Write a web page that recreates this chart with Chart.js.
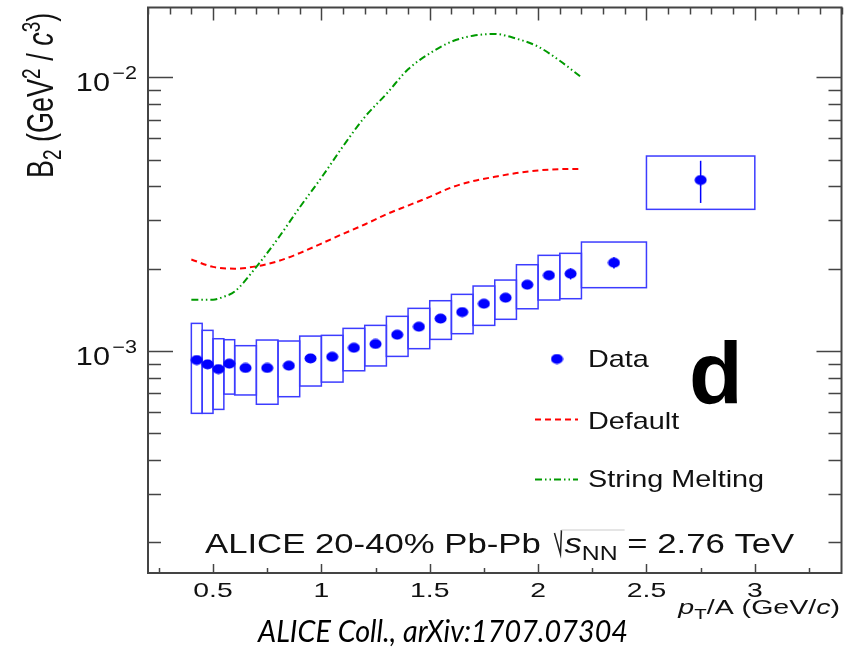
<!DOCTYPE html>
<html>
<head>
<meta charset="utf-8">
<script src="https://cdn.jsdelivr.net/npm/chart.js@4.4.1/dist/chart.umd.min.js"></script>
<style>
    html, body { margin: 0; padding: 0; background: #fff; }
    #wrap { width: 853px; height: 648px; }
</style>
</head>
<body>
<div id="wrap"><canvas id="myChart" width="853" height="648"></canvas></div>
<script>
// values of B2 are in units of 1e-3 GeV^2/c^3
const B2_UNIT = 1e-3;

//******** DATA (ALICE 20-40% Pb-Pb) **********
const binLow   = [0.40, 0.45, 0.50, 0.55, 0.60, 0.70, 0.80, 0.90, 1.00, 1.10, 1.20, 1.30, 1.40, 1.50, 1.60, 1.70, 1.80, 1.90, 2.00, 2.10, 2.20, 2.50];
const binHigh  = [0.45, 0.50, 0.55, 0.60, 0.70, 0.80, 0.90, 1.00, 1.10, 1.20, 1.30, 1.40, 1.50, 1.60, 1.70, 1.80, 1.90, 2.00, 2.10, 2.20, 2.50, 3.00];
const ptCenter = [0.425, 0.475, 0.525, 0.575, 0.65, 0.75, 0.85, 0.95, 1.05, 1.15, 1.25, 1.35, 1.45, 1.55, 1.65, 1.75, 1.85, 1.95, 2.05, 2.15, 2.35, 2.75];
const b2Value  = [0.927, 0.894, 0.859, 0.899, 0.867, 0.867, 0.884, 0.940, 0.953, 1.028, 1.061, 1.147, 1.227, 1.314, 1.388, 1.489, 1.566, 1.747, 1.891, 1.916, 2.102, 4.216];
const b2Stat   = [0.02, 0.02, 0.02, 0.02, 0.02, 0.02, 0.02, 0.02, 0.02, 0.02, 0.03, 0.03, 0.03, 0.03, 0.04, 0.04, 0.05, 0.05, 0.06, 0.09, 0.10, 0.74];
const b2SysLow = [0.592, 0.592, 0.612, 0.696, 0.691, 0.639, 0.681, 0.745, 0.770, 0.847, 0.882, 0.956, 1.020, 1.103, 1.157, 1.241, 1.306, 1.427, 1.536, 1.553, 1.704, 3.294];
const b2SysHigh = [1.262, 1.190, 1.109, 1.100, 1.046, 1.097, 1.088, 1.134, 1.141, 1.210, 1.241, 1.339, 1.432, 1.527, 1.611, 1.728, 1.817, 2.067, 2.237, 2.275, 2.502, 5.159];

//******** AMPT CURVES **********
const defaultPt = [0.4, 0.5, 0.6, 0.7, 0.8, 0.9, 1.0, 1.1, 1.2, 1.3, 1.4, 1.5, 1.6, 1.7, 1.8, 1.9, 2.0, 2.1, 2.2];
const defaultB2 = [2.16, 2.03, 2.00, 2.04, 2.13, 2.28, 2.47, 2.68, 2.90, 3.16, 3.40, 3.66, 3.96, 4.18, 4.33, 4.47, 4.57, 4.62, 4.63];
const meltingPt = [0.4, 0.5, 0.55, 0.6, 0.7, 0.8, 0.9, 1.0, 1.1, 1.2, 1.3, 1.4, 1.5, 1.6, 1.7, 1.8, 1.9, 2.0, 2.1, 2.2];
const meltingB2 = [1.54, 1.54, 1.58, 1.65, 2.03, 2.58, 3.35, 4.30, 5.60, 7.16, 8.70, 10.7, 12.24, 13.5, 14.2, 14.4, 13.85, 12.95, 11.5, 10.0];

//******** AXES **********
const xMin = 0.2, xMax = 3.4;
const yMin = 1.545e-4, yMax = 1.80e-2;
const xTickValues = [0.5, 1, 1.5, 2, 2.5, 3];
const xTickLabels = ['0.5', '1', '1.5', '2', '2.5', '3'];
const yTickValues = [1e-3, 1e-2];
const yTickExponents = ['\u22123', '\u22122'];

const legendLabels = ['Data', 'Default', 'String Melting'];

const SANS = '"Liberation Sans", Arial, sans-serif';
const AXIS_COLOR = '#444';
const BOX_COLOR = '#3c3cff';

// elliptic marker like the ROOT picture
const dotImg = document.createElement('canvas');
dotImg.width = 13;
dotImg.height = 11;
const dctx = dotImg.getContext('2d');
dctx.fillStyle = '#0000ff';
dctx.beginPath();
dctx.ellipse(6.5, 5.5, 6, 5, 0, 0, 2 * Math.PI);
dctx.fill();

const toPoints = (xs, ys) => xs.map((x, i) => ({ x: x, y: ys[i] * B2_UNIT }));

// draw text runs (sub / superscripts) stretched by sx, returns total width
const drawRuns = (ctx, x, y, runs, sx, dryRun) => {
    let cx = 0;
    ctx.save();
    ctx.translate(x, y);
    ctx.scale(sx, 1);
    runs.forEach(r => {
        ctx.font = r.font;
        if (!dryRun) ctx.fillText(r.text, cx, r.dy || 0);
        cx += ctx.measureText(r.text).width;
    });
    ctx.restore();
    return cx * sx;
};

// minor tick values of the log axis
const yMinorTicks = [];
[1e-4, 1e-3, 1e-2].forEach(dec => {
    for (let m = 2; m <= 9; m++) {
        const v = m * dec;
        if (v > yMin && v < yMax) yMinorTicks.push(v);
    }
});

const rootStyle = {
    id: 'rootStyle',
    beforeDatasetsDraw(chart) {
        const ctx = chart.ctx;
        const xs = chart.scales.x, ys = chart.scales.y;
        ctx.save();
        // systematic boxes
        ctx.strokeStyle = BOX_COLOR;
        ctx.lineWidth = 1.5;
        for (let i = 0; i < ptCenter.length; i++) {
            const x1 = xs.getPixelForValue(binLow[i]);
            const x2 = xs.getPixelForValue(binHigh[i]);
            const y1 = ys.getPixelForValue(b2SysHigh[i] * B2_UNIT);
            const y2 = ys.getPixelForValue(b2SysLow[i] * B2_UNIT);
            ctx.strokeRect(x1, y1, x2 - x1, y2 - y1);
        }
        // statistical error bars
        ctx.strokeStyle = '#0000ff';
        ctx.lineWidth = 1.5;
        for (let i = 0; i < ptCenter.length; i++) {
            const px = xs.getPixelForValue(ptCenter[i]);
            ctx.beginPath();
            ctx.moveTo(px, ys.getPixelForValue((b2Value[i] + b2Stat[i]) * B2_UNIT));
            ctx.lineTo(px, ys.getPixelForValue((b2Value[i] - b2Stat[i]) * B2_UNIT));
            ctx.stroke();
        }
        ctx.restore();
    },
    afterDraw(chart) {
        const ctx = chart.ctx;
        const area = chart.chartArea;
        const xs = chart.scales.x, ys = chart.scales.y;
        ctx.save();

        // frame
        ctx.strokeStyle = AXIS_COLOR;
        ctx.lineWidth = 2;
        ctx.strokeRect(area.left, area.top, area.right - area.left, area.bottom - area.top);

        // y ticks, left and right
        ctx.lineWidth = 1.5;
        const yTick = (v, len) => {
            const py = Math.round(ys.getPixelForValue(v)) + 0.5;
            ctx.beginPath();
            ctx.moveTo(area.left, py); ctx.lineTo(area.left + len, py);
            ctx.moveTo(area.right, py); ctx.lineTo(area.right - len, py);
            ctx.stroke();
        };
        yTickValues.forEach(v => yTick(v, 25));
        yMinorTicks.forEach(v => yTick(v, 13));

        // x ticks: top axis every 0.1, bottom axis majors and quarters
        for (let k = 2; k <= 34; k++) {
            const v = k / 10;
            const px = Math.round(xs.getPixelForValue(v)) + 0.5;
            const major = k % 5 === 0;
            ctx.beginPath();
            ctx.moveTo(px, area.top); ctx.lineTo(px, area.top + (major ? 13 : 7));
            ctx.stroke();
            if (major) {
                ctx.beginPath();
                ctx.moveTo(px, area.bottom); ctx.lineTo(px, area.bottom - 9);
                ctx.stroke();
            }
        }
        for (let k = 1; k <= 13; k += 2) {
            const px = Math.round(xs.getPixelForValue(k / 4)) + 0.5;
            ctx.beginPath();
            ctx.moveTo(px, area.bottom); ctx.lineTo(px, area.bottom - 5);
            ctx.stroke();
        }

        ctx.fillStyle = '#111';
        ctx.textBaseline = 'alphabetic';
        ctx.textAlign = 'left';

        // x tick labels (picture is stretched sideways)
        xTickValues.forEach((v, i) => {
            const run = [{ text: xTickLabels[i], font: '21px ' + SANS }];
            const w = drawRuns(ctx, 0, 0, run, 1.35, true);
            drawRuns(ctx, xs.getPixelForValue(v) - w / 2, 597, run, 1.35);
        });

        // y tick labels 10^-n
        yTickValues.forEach((v, i) => {
            const py = ys.getPixelForValue(v);
            const tenRun = [{ text: '10', font: '26px ' + SANS }];
            const expRun = [{ text: yTickExponents[i], font: '18px ' + SANS }];
            const w1 = drawRuns(ctx, 0, 0, tenRun, 1.18, true);
            const w2 = drawRuns(ctx, 0, 0, expRun, 1.2, true);
            drawRuns(ctx, 110 - w1, py + 13.5, tenRun, 1.18);
            drawRuns(ctx, 137 - w2, py + 2, expRun, 1.2);
        });

        // y title (rotated, stretched across)
        ctx.save();
        ctx.translate(53, 178);
        ctx.rotate(-Math.PI / 2);
        ctx.scale(1, 1.35);
        drawRuns(ctx, 0, 0, [
            { text: 'B', font: '27px ' + SANS },
            { text: '2', font: '19px ' + SANS, dy: 6 },
            { text: ' (GeV', font: '27px ' + SANS },
            { text: '2', font: '19px ' + SANS, dy: -10 },
            { text: ' / ', font: '27px ' + SANS },
            { text: 'c', font: 'italic 27px ' + SANS },
            { text: '3', font: '19px ' + SANS, dy: -10 },
            { text: ')', font: '27px ' + SANS }
        ], 1);
        ctx.restore();

        // x title, right aligned
        const xTitle = [
            { text: 'p', font: 'italic 21px ' + SANS },
            { text: 'T', font: '15px ' + SANS, dy: 5 },
            { text: '/A (GeV/', font: '21px ' + SANS },
            { text: 'c', font: 'italic 21px ' + SANS },
            { text: ')', font: '21px ' + SANS }
        ];
        const xTitleW = drawRuns(ctx, 0, 0, xTitle, 1.36, true);
        drawRuns(ctx, 840 - xTitleW, 614, xTitle, 1.36);

        // ALICE label with sqrt(s_NN)
        const base = 553;
        const sx = 1.24;
        let cx = 205;
        cx += drawRuns(ctx, cx, base, [{ text: 'ALICE 20-40% Pb-Pb ', font: '28px ' + SANS }], sx);
        cx += 4;
        ctx.strokeStyle = '#222';
        ctx.lineWidth = 1.5;
        ctx.beginPath();
        ctx.moveTo(cx, base - 20);
        ctx.lineTo(cx + 6, base + 1);
        ctx.lineTo(cx + 7, base - 23);
        ctx.stroke();
        const sStart = cx + 10;
        cx = sStart;
        cx += drawRuns(ctx, cx, base, [
            { text: 's', font: 'italic 28px ' + SANS },
            { text: 'NN', font: '20px ' + SANS, dy: 7 }
        ], sx);
        ctx.strokeStyle = '#ddd';
        ctx.beginPath();
        ctx.moveTo(cx + 7, base - 23);
        ctx.lineTo(cx, base - 23);
        ctx.moveTo(sStart - 3, base - 23);
        ctx.lineTo(cx, base - 23);
        ctx.stroke();
        drawRuns(ctx, cx, base, [{ text: ' = 2.76 TeV', font: '28px ' + SANS }], sx);

        // legend
        const ds = chart.data.datasets;
        ctx.drawImage(dotImg, 557 - 6.5, 359 - 5.5);
        [[1, 419.5], [2, 479.5]].forEach(item => {
            const d = ds[item[0]];
            ctx.strokeStyle = d.borderColor;
            ctx.lineWidth = d.borderWidth;
            ctx.setLineDash(d.borderDash);
            ctx.beginPath();
            ctx.moveTo(535, item[1]);
            ctx.lineTo(578, item[1]);
            ctx.stroke();
        });
        ctx.setLineDash([]);
        ctx.fillStyle = '#111';
        drawRuns(ctx, 588, 367, [{ text: legendLabels[0], font: '24px ' + SANS }], 1.2);
        drawRuns(ctx, 588, 429, [{ text: legendLabels[1], font: '24px ' + SANS }], 1.2);
        drawRuns(ctx, 588, 487, [{ text: legendLabels[2], font: '24px ' + SANS }], 1.2);

        // panel letter
        ctx.fillStyle = '#000';
        ctx.font = 'bold 88px ' + SANS;
        ctx.fillText('d', 689, 403);

        // citation, fitted to its width in the picture
        const citeRun = [{ text: 'ALICE Coll., arXiv:1707.07304', font: 'italic 31px Lato, "Open Sans", sans-serif' }];
        const cw = drawRuns(ctx, 0, 0, citeRun, 1, true);
        drawRuns(ctx, 258, 642, citeRun, 370 / cw);

        ctx.restore();
    }
};

const mychartView = new Chart(document.getElementById('myChart'), {
    type: 'scatter',
    data: {
        datasets: [{
            label: legendLabels[0],
            data: toPoints(ptCenter, b2Value),
            pointStyle: dotImg,
            pointRadius: 6,
            showLine: false,
            order: 0
        }, {
            label: legendLabels[1],
            data: toPoints(defaultPt, defaultB2),
            showLine: true,
            borderColor: '#ff0000',
            borderWidth: 2,
            borderDash: [6, 4],
            pointRadius: 0,
            cubicInterpolationMode: 'monotone',
            order: 2
        }, {
            label: legendLabels[2],
            data: toPoints(meltingPt, meltingB2),
            showLine: true,
            borderColor: '#009a00',
            borderWidth: 2,
            borderDash: [7, 3, 1.5, 3, 1.5, 3],
            pointRadius: 0,
            cubicInterpolationMode: 'monotone',
            order: 1
        }]
    },
    options: {
        responsive: false,
        animation: false,
        devicePixelRatio: 1,
        layout: { padding: { top: 7.5, right: 11.5, bottom: 0, left: 0 } },
        plugins: {
            legend: { display: false },
            tooltip: { enabled: false }
        },
        scales: {
            x: {
                type: 'linear',
                min: xMin,
                max: xMax,
                ticks: { display: false },
                grid: { display: false, drawTicks: false },
                border: { display: false },
                afterFit: (scale) => { scale.height = 75; }
            },
            y: {
                type: 'logarithmic',
                min: yMin,
                max: yMax,
                ticks: { display: false },
                grid: { display: false, drawTicks: false },
                border: { display: false },
                afterFit: (scale) => { scale.width = 148; }
            }
        }
    },
    plugins: [rootStyle]
});
</script>
</body>
</html>
